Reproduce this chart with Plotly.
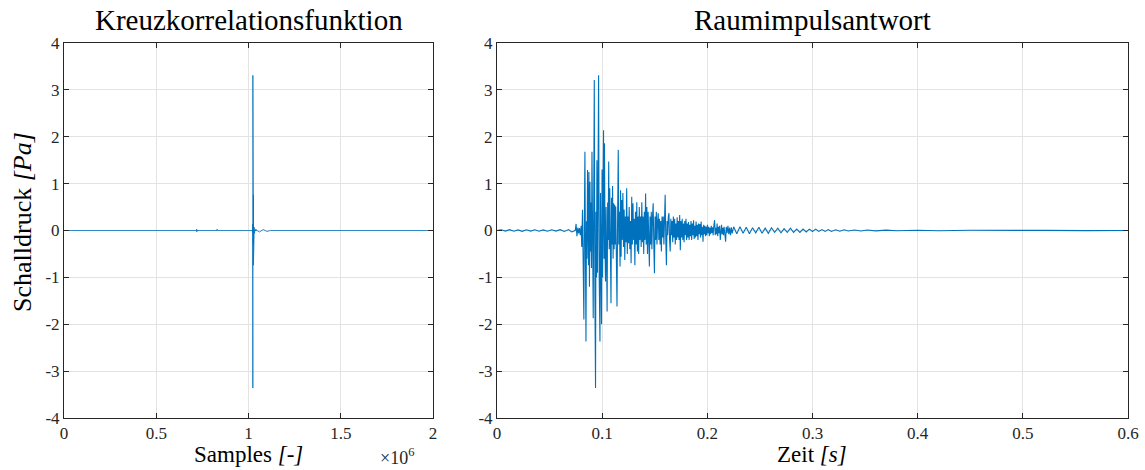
import plotly.graph_objects as go

# ---------------- data ----------------
# Raumimpulsantwort: time [s] and sound pressure [Pa]
rir_time_s = [
    0.0000, 0.0040, 0.0080, 0.0120, 0.0160, 0.0200, 0.0240, 0.0280, 0.0320, 0.0360,
    0.0400, 0.0440, 0.0480, 0.0520, 0.0560, 0.0600, 0.0640, 0.0680, 0.0710, 0.0735,
    0.0744, 0.0752, 0.0760, 0.0768, 0.0776, 0.0784, 0.0792, 0.0800, 0.0806, 0.0813,
    0.0820, 0.0826, 0.0831, 0.0836, 0.0841, 0.0846, 0.0851, 0.0856, 0.0861, 0.0866,
    0.0870, 0.0874, 0.0879, 0.0884, 0.0888, 0.0893, 0.0898, 0.0903, 0.0909, 0.0915,
    0.0920, 0.0925, 0.0931, 0.0937, 0.0941, 0.0946, 0.0950, 0.0955, 0.0960, 0.0966,
    0.0972, 0.0979, 0.0984, 0.0989, 0.0994, 0.0999, 0.1004, 0.1008, 0.1013, 0.1018,
    0.1022, 0.1027, 0.1032, 0.1037, 0.1042, 0.1047, 0.1052, 0.1057, 0.1062, 0.1067,
    0.1072, 0.1078, 0.1084, 0.1089, 0.1094, 0.1099, 0.1104, 0.1109, 0.1114, 0.1119,
    0.1124, 0.1129, 0.1135, 0.1141, 0.1147, 0.1153, 0.1158, 0.1163, 0.1170, 0.1175,
    0.1180, 0.1186, 0.1191, 0.1197, 0.1203, 0.1209, 0.1215, 0.1221, 0.1227, 0.1233,
    0.1239, 0.1245, 0.1251, 0.1257, 0.1263, 0.1269, 0.1275, 0.1281, 0.1287, 0.1293,
    0.1299, 0.1305, 0.1311, 0.1317, 0.1323, 0.1329, 0.1335, 0.1341, 0.1347, 0.1353,
    0.1359, 0.1365, 0.1371, 0.1377, 0.1383, 0.1389, 0.1395, 0.1401, 0.1407, 0.1413,
    0.1419, 0.1425, 0.1431, 0.1437, 0.1443, 0.1449, 0.1455, 0.1461, 0.1467, 0.1473,
    0.1479, 0.1485, 0.1491, 0.1497, 0.1503, 0.1509, 0.1515, 0.1521, 0.1527, 0.1533,
    0.1539, 0.1545, 0.1551, 0.1557, 0.1563, 0.1569, 0.1575, 0.1581, 0.1587, 0.1593,
    0.1599, 0.1605, 0.1611, 0.1617, 0.1623, 0.1629, 0.1635, 0.1641, 0.1647, 0.1653,
    0.1659, 0.1665, 0.1671, 0.1677, 0.1683, 0.1689, 0.1695, 0.1701, 0.1707, 0.1713,
    0.1719, 0.1725, 0.1731, 0.1737, 0.1743, 0.1749, 0.1755, 0.1761, 0.1767, 0.1773,
    0.1779, 0.1785, 0.1791, 0.1797, 0.1803, 0.1809, 0.1815, 0.1821, 0.1827, 0.1833,
    0.1839, 0.1845, 0.1851, 0.1857, 0.1863, 0.1869, 0.1875, 0.1881, 0.1887, 0.1893,
    0.1899, 0.1905, 0.1911, 0.1917, 0.1923, 0.1929, 0.1935, 0.1941, 0.1947, 0.1953,
    0.1959, 0.1965, 0.1971, 0.1977, 0.1983, 0.1989, 0.1995, 0.2001, 0.2007, 0.2013,
    0.2019, 0.2025, 0.2031, 0.2037, 0.2043, 0.2049, 0.2055, 0.2061, 0.2069, 0.2075,
    0.2081, 0.2087, 0.2093, 0.2099, 0.2105, 0.2111, 0.2117, 0.2123, 0.2129, 0.2135,
    0.2141, 0.2147, 0.2153, 0.2159, 0.2165, 0.2174, 0.2180, 0.2188, 0.2196, 0.2204,
    0.2212, 0.2220, 0.2228, 0.2236, 0.2250, 0.2280, 0.2310, 0.2340, 0.2370, 0.2400,
    0.2430, 0.2460, 0.2490, 0.2520, 0.2550, 0.2580, 0.2610, 0.2640, 0.2670, 0.2700,
    0.2730, 0.2760, 0.2790, 0.2820, 0.2850, 0.2880, 0.2910, 0.2940, 0.2970, 0.3000,
    0.3030, 0.3060, 0.3090, 0.3120, 0.3150, 0.3180, 0.3220, 0.3260, 0.3300, 0.3340,
    0.3400, 0.3460, 0.3520, 0.3600, 0.3700, 0.3800, 0.4000, 0.4200, 0.4500, 0.4800,
    0.5200, 0.5600, 0.6000,
]
rir_pressure_pa = [
    0.000, 0.015, -0.012, 0.018, -0.015, 0.012, -0.018, 0.014, -0.012, 0.016,
    -0.014, 0.012, -0.016, 0.015, -0.012, 0.018, -0.020, 0.020, -0.030, 0.000,
    0.00, 0.14, -0.12, 0.06, -0.06, 0.05, -0.10, 0.10, -0.35, 0.44,
    -0.40, -1.90, 0.30, 1.68, -0.50, -2.37, 0.20, -0.60, 1.29, -0.30,
    -0.74, 1.25, -1.20, 1.04, -0.45, 0.60, -0.80, 1.68, -0.90, -1.87,
    0.80, 3.21, -1.40, -3.36, 0.40, -1.00, 1.50, -0.90, 0.70, 3.31,
    -1.00, -2.37, 0.80, -0.40, -2.00, 1.30, -1.00, 0.60, 2.14, -0.60,
    1.86, -0.40, -1.09, 0.50, -0.30, -1.73, 0.60, -0.20, 1.47, -0.40,
    0.90, -0.80, -1.55, 0.70, -0.30, 0.95, -0.60, 0.58, -0.40, 0.55,
    -0.30, 0.51, -0.50, -1.62, 0.30, 1.72, -0.30, 0.40, -0.77, 0.86,
    -0.56, 0.65, -0.20, 0.80, -0.35, 0.45, -0.63, 0.30, -0.25, 0.90,
    -0.50, 0.30, -0.27, 0.50, -0.40, 0.20, -0.70, 0.72, -0.30, 0.58,
    -0.20, 0.25, -0.74, 0.40, -0.30, 0.60, -0.45, 0.30, -0.50, 0.50,
    -0.20, 0.30, -0.35, 0.60, -0.25, 0.30, -0.50, 0.40, -0.20, 0.79,
    -0.30, 0.50, -0.50, 0.40, -0.20, -0.77, 0.30, -0.30, 0.40, -0.40,
    0.30, 0.58, -0.30, -0.91, 0.30, -0.20, 0.40, -0.30, 0.20, 0.37,
    -0.20, 0.25, -0.30, 0.20, -0.45, 0.30, -0.15, 0.30, -0.30, 0.20,
    0.76, -0.20, -0.74, 0.20, -0.10, 0.30, 0.37, -0.20, -0.45, 0.25,
    -0.10, 0.20, -0.25, 0.30, -0.15, 0.25, -0.30, 0.15, -0.20, 0.28,
    -0.15, 0.20, -0.20, 0.33, -0.42, 0.20, -0.15, 0.25, -0.20, 0.15,
    -0.25, 0.20, -0.10, 0.25, -0.20, 0.15, -0.15, 0.18, -0.20, 0.12,
    -0.12, 0.20, -0.20, 0.15, -0.10, 0.22, -0.18, 0.10, -0.15, 0.19,
    -0.12, 0.12, -0.20, 0.15, -0.08, 0.14, -0.15, 0.19, -0.10, 0.08,
    -0.24, 0.12, -0.08, 0.10, -0.12, 0.08, -0.10, 0.12, -0.06, 0.08,
    -0.12, 0.06, -0.08, 0.10, -0.05, 0.07, -0.10, 0.08, 0.22, -0.10,
    0.06, -0.08, 0.15, -0.12, 0.08, -0.06, 0.10, -0.20, 0.05, 0.12,
    -0.08, 0.06, -0.10, 0.08, -0.05, -0.24, 0.08, -0.05, 0.10, -0.08,
    0.06, -0.10, 0.07, -0.06, 0.08, -0.07, 0.08, -0.06, 0.07, -0.07,
    0.06, -0.05, 0.07, -0.06, 0.05, -0.06, 0.06, -0.04, 0.05, -0.05,
    0.04, -0.04, 0.05, -0.04, 0.03, -0.04, 0.03, -0.03, 0.03, -0.02,
    0.03, -0.02, 0.02, -0.02, 0.02, -0.02, 0.015, -0.015, 0.015, -0.010,
    0.010, -0.010, 0.010, -0.008, 0.008, -0.006, 0.005, -0.005, 0.004, -0.003,
    0.003, -0.002, 0.000,
]
assert len(rir_time_s) == len(rir_pressure_pa)

# Kreuzkorrelationsfunktion: sample index and value outside the main peak
xcorr_lag0_sample = 1019000      # sample where the impulse response starts
sample_rate_hz = 48000
xcorr_other_samples = [0, 718000, 719000, 720000, 721000, 829000, 830000, 831000,
                       1040000, 1060000, 1080000, 1100000, 1120000, 2000000]
xcorr_other_values = [0.0, 0.0, 0.03, -0.03, 0.0, 0.0, 0.03, 0.0,
                      0.03, -0.03, 0.02, -0.02, 0.0, 0.0]

# tick labels
y_ticks = [-4, -3, -2, -1, 0, 1, 2, 3, 4]
y_tick_labels = ["-4", "-3", "-2", "-1", "0", "1", "2", "3", "4"]
x1_ticks = [0, 500000, 1000000, 1500000, 2000000]
x1_tick_labels = ["0", "0.5", "1", "1.5", "2"]
x2_ticks = [0, 0.1, 0.2, 0.3, 0.4, 0.5, 0.6]
x2_tick_labels = ["0", "0.1", "0.2", "0.3", "0.4", "0.5", "0.6"]

# ---------------- build figure ----------------
W, H = 1145, 470
FONT = "Liberation Serif"
LINE = "#0072BD"
AX = "#262626"
GRID = "#e3e3e3"

xc = list(zip(xcorr_other_samples, xcorr_other_values))
xc += [(xcorr_lag0_sample + t * sample_rate_hz, p) for t, p in zip(rir_time_s, rir_pressure_pa)]
xc.sort(key=lambda a: a[0])
xc_x = [a[0] for a in xc]
xc_y = [a[1] for a in xc]

fig = go.Figure()
fig.add_trace(go.Scatter(x=xc_x, y=xc_y, mode="lines", line=dict(color=LINE, width=0.8),
                         xaxis="x", yaxis="y", showlegend=False))
fig.add_trace(go.Scatter(x=rir_time_s, y=rir_pressure_pa, mode="lines",
                         line=dict(color=LINE, width=1.1), xaxis="x2", yaxis="y2", showlegend=False))

def px(x):
    return x / W

def py(y):
    return 1 - y / H

common = dict(showline=True, linecolor=AX, linewidth=1, mirror="ticks", ticks="inside",
              ticklen=5, tickcolor=AX, tickwidth=1, showgrid=True, gridcolor=GRID, gridwidth=1,
              zeroline=False, automargin=False, tickfont=dict(family=FONT, size=17, color=AX))

fig.update_layout(
    width=W, height=H, margin=dict(l=0, r=0, t=0, b=0, pad=0), autosize=False,
    paper_bgcolor="white", plot_bgcolor="white",
    xaxis=dict(domain=[px(64), px(433)], range=[0, 2000000], tickvals=x1_ticks,
               ticktext=x1_tick_labels, anchor="y", **common),
    yaxis=dict(domain=[py(418), py(43)], range=[-4, 4], tickvals=y_ticks,
               ticktext=y_tick_labels, anchor="x", **common),
    xaxis2=dict(domain=[px(497), px(1128)], range=[0, 0.6], tickvals=x2_ticks,
                ticktext=x2_tick_labels, anchor="y2", **common),
    yaxis2=dict(domain=[py(418), py(43)], range=[-4, 4], tickvals=y_ticks,
                ticktext=y_tick_labels, anchor="x2", **common),
)

def ann(text, x, y, size, angle=0):
    fig.add_annotation(text=text, x=px(x), y=py(y), xref="paper", yref="paper",
                       xanchor="center", yanchor="middle", showarrow=False, textangle=angle,
                       font=dict(family=FONT, size=size, color="black"))

ann("Kreuzkorrelationsfunktion", 249, 20, 29)
ann("Raumimpulsantwort", 812, 20, 29)
ann("Samples <i>[-]</i>", 248, 454, 23)
ann("Zeit <i>[s]</i>", 812, 454, 23)
ann("Schalldruck <i>[Pa]</i>", 22, 222, 26, -90)
fig.add_annotation(text="×10<sup>6</sup>", x=px(397), y=py(456), xref="paper", yref="paper",
                   xanchor="center", yanchor="middle", showarrow=False,
                   font=dict(family=FONT, size=18, color=AX))

fig.write_html("out.html", post_script="document.body.style.margin='0';")
